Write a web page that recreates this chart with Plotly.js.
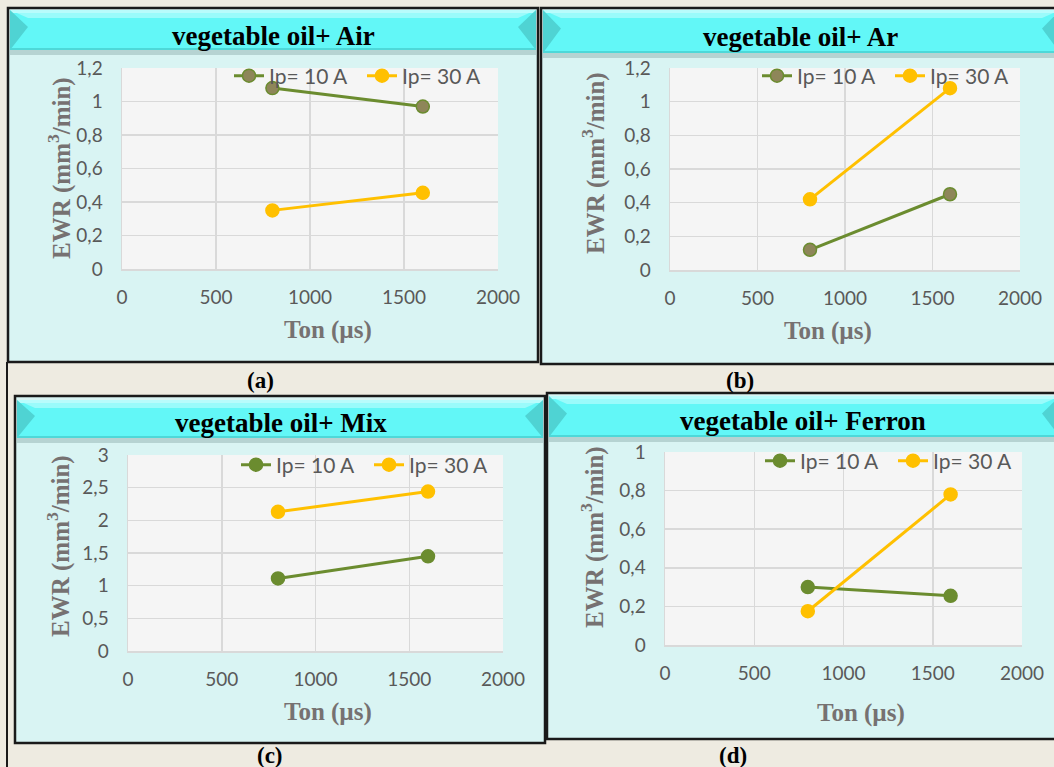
<!DOCTYPE html>
<html><head><meta charset="utf-8">
<script src="https://cdn.plot.ly/plotly-3.0.1.min.js"></script>
<style>html,body{margin:0;padding:0;background:#eeebe1;}</style>
</head><body><div id="chart" style="width:1054px;height:767px;"></div>
<script>
// ---- data ----
const tonValues = [800, 1600];
const seriesNames = ['Ip= 10 A', 'Ip= 30 A'];
const panelTitles = ['vegetable oil+ Air', 'vegetable oil+ Ar', 'vegetable oil+ Mix', 'vegetable oil+ Ferron'];
const panelLabels = ['(a)', '(b)', '(c)', '(d)'];
const xTitle = 'Ton (µs)';
const yTitle = 'EWR (mm<sup>3</sup>/min)';
const air10 = [1.08, 0.97];
const air30 = [0.35, 0.455];
const ar10 = [0.12, 0.45];
const ar30 = [0.42, 1.08];
const mix10 = [1.11, 1.45];
const mix30 = [2.13, 2.44];
const ferron10 = [0.30, 0.255];
const ferron30 = [0.175, 0.78];
const yMax = [1.2, 1.2, 3, 1];
const yStep = [0.2, 0.2, 0.5, 0.2];

// ---- layout helpers ----
const W = 1054, H = 767;
const px = v => v / W;
const py = v => 1 - v / H;

const green = '#6b8c2f', khaki = '#8e8659', gold = '#ffc000';
const panelData = [[air10, air30], [ar10, ar30], [mix10, mix30], [ferron10, ferron30]];
const markerFill10 = [khaki, khaki, green, green];
const serif = '"Liberation Serif", "Times New Roman", serif';

// panel geometry in pixels
const panels = [
  {box:[8,8,538,362], banner:[10,10,536,50], title:[273,36], plot:[122,68,498,269], leg:[229,76],
   xt:[328,330], yt:[59,168], label:[260,380]},
  {box:[541,8,1060,364], banner:[543,10,1060,53], title:[800,37], plot:[670,68,1020,270], leg:[757,76],
   xt:[828,331], yt:[593,163], label:[740,380]},
  {box:[15,396,545,743], banner:[17,400,543,438], title:[281,423], plot:[128,455,503,651], leg:[236,465],
   xt:[328,712], yt:[58,546], label:[270,755]},
  {box:[547,393,1060,739], banner:[549,396,1060,437], title:[803,421], plot:[665,452,1022,645], leg:[760,461],
   xt:[861,713], yt:[592,537], label:[733,755]}
];

const traces = [];
const layout = {
  width: W, height: H,
  margin: {l:0, r:0, t:0, b:0, autoexpand: false},
  paper_bgcolor: '#eeebe1',
  plot_bgcolor: '#f5f5f5',
  separators: ',.',
  shapes: [], annotations: [],
  font: {family: 'Lato, "Open Sans", sans-serif', color: '#595959', size: 19}
};

panels.forEach((p, i) => {
  const n = i === 0 ? '' : String(i + 1);
  const legName = 'legend' + n;
  [0, 1].forEach(s => {
    traces.push({
      x: tonValues, y: panelData[i][s],
      name: seriesNames[s],
      type: 'scatter', mode: 'lines+markers',
      xaxis: 'x' + n, yaxis: 'y' + n,
      legend: legName,
      line: {color: s === 0 ? green : gold, width: 3},
      marker: {size: 13,
        color: s === 0 ? markerFill10[i] : gold,
        line: {color: s === 0 ? green : gold, width: 1.5}},
      cliponaxis: false
    });
  });
  layout['xaxis' + n] = {
    domain: [px(p.plot[0]), px(p.plot[2])],
    anchor: 'y' + n,
    range: [0, 2000], dtick: 500, tick0: 0,
    showgrid: true, gridcolor: '#d9d9d9', gridwidth: 1.5,
    zeroline: false, showline: true, linecolor: '#d9d9d9', linewidth: 1.5,
    ticks: 'outside', ticklen: 11, tickcolor: 'rgba(0,0,0,0)',
    tickfont: {size: 19, color: '#595959'},
    fixedrange: true
  };
  layout['yaxis' + n] = {
    domain: [py(p.plot[3]), py(p.plot[1])],
    anchor: 'x' + n,
    range: [0, yMax[i]], dtick: yStep[i], tick0: 0,
    showgrid: true, gridcolor: '#d9d9d9', gridwidth: 1.5,
    zeroline: false, showline: true, linecolor: '#d9d9d9', linewidth: 1.5,
    ticks: 'outside', ticklen: 14, tickcolor: 'rgba(0,0,0,0)',
    tickfont: {size: 19, color: '#595959'},
    fixedrange: true
  };
  layout[legName] = {
    orientation: 'h', x: px(p.leg[0]), y: py(p.leg[1]),
    xanchor: 'left', yanchor: 'middle',
    bgcolor: 'rgba(0,0,0,0)', borderwidth: 0,
    font: {size: 21, color: '#595959'},
    itemwidth: 30, tracegroupgap: 0,
    entrywidth: 88, entrywidthmode: 'pixels'
  };

  // panel box
  const b = p.box;
  layout.shapes.push({type:'rect', xref:'paper', yref:'paper', layer:'below',
    x0: px(b[0]), x1: px(b[2]), y0: py(b[3]), y1: py(b[1]),
    fillcolor: '#d9f4f3', line: {color: '#1a1a1a', width: 2.5}});
  // plot area background
  layout.shapes.push({type:'rect', xref:'paper', yref:'paper', layer:'below',
    x0: px(p.plot[0]), x1: px(p.plot[2]), y0: py(p.plot[3]), y1: py(p.plot[1]),
    fillcolor: '#f5f5f5', line: {width: 0}});
  // banner
  const bn = p.banner;
  const mid = bn[1] + 8;
  const bev = 18;
  layout.shapes.push({type:'rect', xref:'paper', yref:'paper', layer:'below',
    x0: px(bn[0]), x1: px(bn[2]), y0: py(bn[3] + 5), y1: py(bn[3]),
    fillcolor: 'rgba(80,110,110,0.25)', line: {width: 0}});
  layout.shapes.push({type:'rect', xref:'paper', yref:'paper', layer:'below',
    x0: px(bn[0]), x1: px(bn[2]), y0: py(bn[3]), y1: py(bn[1]),
    fillcolor: '#62f7f7', line: {width: 0}});
  layout.shapes.push({type:'path', xref:'paper', yref:'paper', layer:'below',
    path: `M ${px(bn[0])} ${py(bn[1])} L ${px(bn[2])} ${py(bn[1])} L ${px(bn[2]-bev)} ${py(mid)} L ${px(bn[0]+bev)} ${py(mid)} Z`,
    fillcolor: '#9afbfb', line: {width: 0}});
  layout.shapes.push({type:'rect', xref:'paper', yref:'paper', layer:'below',
    x0: px(bn[0]), x1: px(bn[2]), y0: py(bn[1] + 3), y1: py(bn[1]),
    fillcolor: '#b8fcfc', line: {width: 0}});
  const midL = (bn[1] + bn[3]) / 2 - 3;
  layout.shapes.push({type:'path', xref:'paper', yref:'paper', layer:'below',
    path: `M ${px(bn[0])} ${py(bn[1])} L ${px(bn[0]+bev)} ${py(midL)} L ${px(bn[0])} ${py(bn[3])} Z`,
    fillcolor: '#4fd3d3', line: {width: 0}});
  layout.shapes.push({type:'path', xref:'paper', yref:'paper', layer:'below',
    path: `M ${px(bn[2])} ${py(bn[1])} L ${px(bn[2]-bev)} ${py(midL)} L ${px(bn[2])} ${py(bn[3])} Z`,
    fillcolor: '#4fd3d3', line: {width: 0}});
  layout.shapes.push({type:'rect', xref:'paper', yref:'paper', layer:'below',
    x0: px(bn[0]), x1: px(bn[2]), y0: py(bn[3]), y1: py(bn[3] - 2),
    fillcolor: '#4ed8d8', line: {width: 0}});
  // title
  layout.annotations.push({xref:'paper', yref:'paper', showarrow:false,
    x: px(p.title[0]), y: py(p.title[1]),
    xanchor:'center', yanchor:'middle',
    text: '<b>' + panelTitles[i] + '</b>',
    font: {family: serif, size: 27, color: '#000000'}});
  // axis titles
  layout.annotations.push({xref:'paper', yref:'paper', showarrow:false,
    x: px(p.xt[0]), y: py(p.xt[1]), xanchor:'center', yanchor:'middle',
    text: '<b>' + xTitle + '</b>',
    font: {family: serif, size: 25, color: '#767171'}});
  layout.annotations.push({xref:'paper', yref:'paper', showarrow:false,
    x: px(p.yt[0]), y: py(p.yt[1]), xanchor:'center', yanchor:'middle', textangle: -90,
    text: '<b>' + yTitle + '</b>',
    font: {family: serif, size: 25, color: '#767171'}});
  // panel label
  layout.annotations.push({xref:'paper', yref:'paper', showarrow:false,
    x: px(p.label[0]), y: py(p.label[1]), xanchor:'center', yanchor:'middle',
    text: '<b>' + panelLabels[i] + '</b>',
    font: {family: serif, size: 23, color: '#000000'}});
});
// outer frame line on the left
layout.shapes.push({type:'line', xref:'paper', yref:'paper', layer:'below',
  x0: px(7), x1: px(7), y0: py(362), y1: py(767), line: {color: '#1a1a1a', width: 2}});

Plotly.newPlot('chart', traces, layout, {displayModeBar: false, staticPlot: true});
</script></body></html>
